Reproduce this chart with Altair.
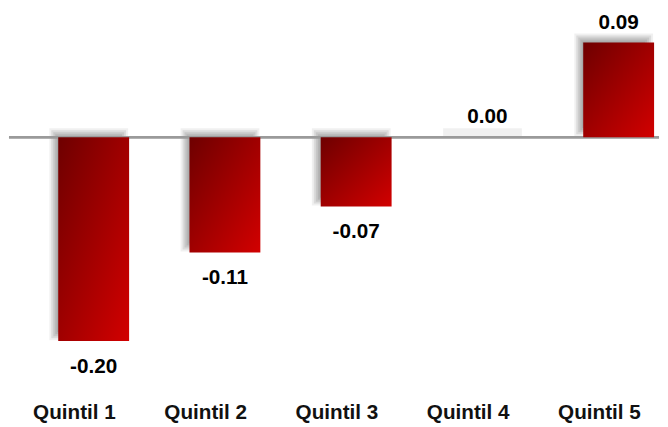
import altair as alt
import pandas as pd

categories = ["Quintil 1", "Quintil 2", "Quintil 3", "Quintil 4", "Quintil 5"]
values = [-0.200, -0.113, -0.068, 0.000, 0.093]

df = pd.DataFrame({"cat": categories, "value": values})

W, H = 660, 413
FONT = "Liberation Sans"

xscale = alt.Scale(domain=categories, paddingInner=0.46, paddingOuter=0.2064, align=0.909)
yscale = alt.Scale(domain=[-0.2763, 0.1227], nice=False, zero=False)

X = alt.X("cat:N", scale=xscale, axis=None)

base = alt.Chart(df).transform_calculate(
    top="max(datum.value, 0)", bot="min(datum.value, 0)"
)

# soft drop shadow (up-left), built from stacked translucent rects
shadow_layers = []
for e in [-6, -4, -2, 0, 2, 4]:
    src = base if e == 4 else base.transform_filter("datum.value != 0")
    shadow_layers.append(
        src.mark_bar(
            color="black", opacity=0.085 if e != 4 else 0.06,
            width=72 + 2 * e, xOffset=-5,
            yOffset=-5 - e, y2Offset=-5 + e,
        ).encode(
            x=X,
            y=alt.Y("top:Q", scale=yscale, axis=None),
            y2="bot:Q",
        )
    )

zero_line = base.mark_rule(color="#9a9a9a", strokeWidth=2).encode(
    y=alt.Y("z:Q", scale=yscale, axis=None), x=alt.value(0), x2=alt.value(W)
).transform_calculate(z="0")

grad = alt.Gradient(
    gradient="linear",
    stops=[alt.GradientStop(color="#6e0000", offset=0),
           alt.GradientStop(color="#d20000", offset=1)],
    x1=0, y1=0, x2=1, y2=1,
)

bars = base.mark_bar(color=grad).encode(
    x=X,
    y=alt.Y("top:Q", scale=yscale, axis=None),
    y2="bot:Q",
)

lab = alt.Chart(df).transform_calculate(
    label="replace(format(datum.value, '.2f'), '\u2212', '-')"
)

neg_labels = lab.transform_filter("datum.value < 0").mark_text(
    font=FONT, fontSize=21, fontWeight="bold", color="black",
    baseline="alphabetic", dy=32,
).encode(
    x=X, y=alt.Y("value:Q", scale=yscale, axis=None),
    text="label:N",
)

pos_labels = lab.transform_filter("datum.value >= 0").mark_text(
    font=FONT, fontSize=21, fontWeight="bold", color="black",
    baseline="alphabetic", dy=-14,
).encode(
    x=X, y=alt.Y("value:Q", scale=yscale, axis=None),
    text="label:N",
)

cat_labels = alt.Chart(df).mark_text(
    font=FONT, fontSize=21, fontWeight="bold", color="#111111",
    baseline="alphabetic", dx=-19.5,
).encode(
    x=X, y=alt.value(H), text="cat:N",
)

chart = alt.layer(
    *shadow_layers, zero_line, bars, neg_labels, pos_labels, cat_labels
).properties(
    width=W, height=H, padding=0, background="white"
).configure_view(stroke=None)

chart.save("out.html", embed_options={"renderer": "svg", "actions": False})
